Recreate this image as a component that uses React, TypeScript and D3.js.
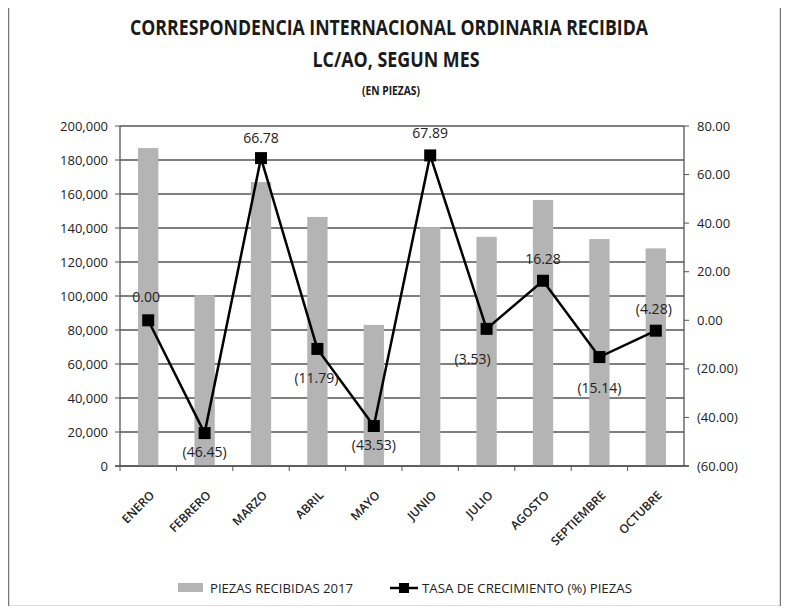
import React from 'react';
import * as d3 from 'd3';

const months = ['ENERO', 'FEBRERO', 'MARZO', 'ABRIL', 'MAYO', 'JUNIO', 'JULIO', 'AGOSTO', 'SEPTIEMBRE', 'OCTUBRE'];
const pieces = [187000, 100500, 167000, 146500, 83000, 140500, 134800, 156500, 133500, 128000];
const growth = [0.0, -46.45, 66.78, -11.79, -43.53, 67.89, -3.53, 16.28, -15.14, -4.28];
// label placement relative to the marker (px), as in the original
const labelDy = [-23, 19, -20, 29, 19, -22, 30, -22, 31, -22];
const labelDx = [-2, 0, 0, -1, 0, 0, -14, 0, 0, -2];
const leftTicks = [0, 20000, 40000, 60000, 80000, 100000, 120000, 140000, 160000, 180000, 200000];
const rightTicks = [-60, -40, -20, 0, 20, 40, 60, 80];

const W = 789;
const H = 614;
const margin = { top: 126, right: 105, bottom: 148, left: 120 };
const FONT = "'Open Sans', sans-serif";

const fmtLeft = d3.format(',');
const fmtPct = (v: number) => (v < 0 ? `(${d3.format('.2f')(-v)})` : d3.format('.2f')(v));

export default function App() {
  const x0 = margin.left;
  const x1 = W - margin.right;
  const y0 = H - margin.bottom;
  const y1 = margin.top;

  const x = d3.scaleBand<string>().domain(months).range([x0, x1]);
  const yL = d3.scaleLinear().domain([0, 200000]).range([y0, y1]);
  const yR = d3.scaleLinear().domain([-60, 80]).range([y0, y1]);
  const barW = x.bandwidth() * 0.36;
  const cx = (m: string) => (x(m) as number) + x.bandwidth() / 2;

  const line = d3
    .line<number>()
    .x((_, i) => cx(months[i]))
    .y((d) => yR(d));

  return (
    <div style={{ margin: -8, width: W, height: H }}>
      <svg width={W} height={H} style={{ display: 'block', background: '#fff' }} fontFamily={FONT}>
        <rect x={8.5} y={6.5} width={772} height={600} fill="#fff" stroke="#777" strokeWidth={1.5} />

        {/* titles, squeezed to match the condensed original font */}
        <text x={389} y={35} textAnchor="middle" fontSize={21} fontWeight="bold" fill="#1a1a1a"
          textLength={518} lengthAdjust="spacingAndGlyphs">
          CORRESPONDENCIA INTERNACIONAL  ORDINARIA RECIBIDA
        </text>
        <text x={396} y={67} textAnchor="middle" fontSize={21} fontWeight="bold" fill="#1a1a1a"
          textLength={167} lengthAdjust="spacingAndGlyphs">
          LC/AO, SEGUN MES
        </text>
        <text x={391} y={95} textAnchor="middle" fontSize={12} fontWeight="bold" fill="#1a1a1a"
          textLength={58} lengthAdjust="spacingAndGlyphs">
          (EN PIEZAS)
        </text>

        {/* gridlines */}
        {leftTicks.map((t) => (
          <line key={`g${t}`} x1={x0} x2={x1} y1={yL(t)} y2={yL(t)} stroke="#555" strokeWidth={1.3} />
        ))}

        {/* bars */}
        {months.map((m, i) => (
          <rect
            key={m}
            x={cx(m) - barW / 2}
            y={yL(pieces[i])}
            width={barW}
            height={y0 - yL(pieces[i])}
            fill="#b4b4b4"
          />
        ))}

        {/* axes */}
        <line x1={x0} x2={x0} y1={y1} y2={y0} stroke="#555" strokeWidth={1.3} />
        <line x1={x1} x2={x1} y1={y1} y2={y0} stroke="#555" strokeWidth={1.3} />
        <line x1={x0 - 5} x2={x1 + 5} y1={y0} y2={y0} stroke="#555" strokeWidth={1.3} />
        {leftTicks.map((t) => (
          <g key={`l${t}`}>
            <line x1={x0 - 5} x2={x0} y1={yL(t)} y2={yL(t)} stroke="#555" />
            <text x={x0 - 12} y={yL(t)} dy="0.35em" textAnchor="end" fontSize={13} fill="#222">
              {fmtLeft(t)}
            </text>
          </g>
        ))}
        {rightTicks.map((t) => (
          <g key={`r${t}`}>
            <line x1={x1} x2={x1 + 5} y1={yR(t)} y2={yR(t)} stroke="#555" />
            <text x={x1 + 13} y={yR(t)} dy="0.35em" textAnchor="start" fontSize={13} fill="#222">
              {fmtPct(t)}
            </text>
          </g>
        ))}
        {months.map((m) => (
          <line key={`t${m}`} x1={x(m)} x2={x(m)} y1={y0} y2={y0 + 5} stroke="#555" />
        ))}
        {months.map((m) => (
          <text
            key={`x${m}`}
            transform={`translate(${cx(m) + 7},${y0 + 30}) rotate(-45)`}
            textAnchor="end"
            fontSize={12}
            fontWeight={600}
            fill="#222"
          >
            {m}
          </text>
        ))}

        {/* growth line */}
        <path d={line(growth) || ''} fill="none" stroke="#000" strokeWidth={2.5} />
        {growth.map((g, i) => (
          <rect key={`m${i}`} x={cx(months[i]) - 6} y={yR(g) - 6} width={12} height={12} fill="#000" />
        ))}
        {growth.map((g, i) => (
          <text
            key={`v${i}`}
            x={cx(months[i]) + labelDx[i]}
            y={yR(g) + labelDy[i]}
            dy="0.35em"
            textAnchor="middle"
            fontSize={14}
            fill="#222"
          >
            {fmtPct(g)}
          </text>
        ))}

        {/* legend */}
        <rect x={178} y={583} width={25} height={9} fill="#b4b4b4" />
        <text x={210} y={593} fontSize={13} fill="#222" textLength={143} lengthAdjust="spacingAndGlyphs">
          PIEZAS RECIBIDAS  2017
        </text>
        <line x1={390} x2={418} y1={588} y2={588} stroke="#000" strokeWidth={2.5} />
        <rect x={399} y={583} width={10} height={10} fill="#000" />
        <text x={422} y={593} fontSize={13} fill="#222" textLength={210} lengthAdjust="spacingAndGlyphs">
          TASA DE CRECIMIENTO  (%) PIEZAS
        </text>
      </svg>
    </div>
  );
}
